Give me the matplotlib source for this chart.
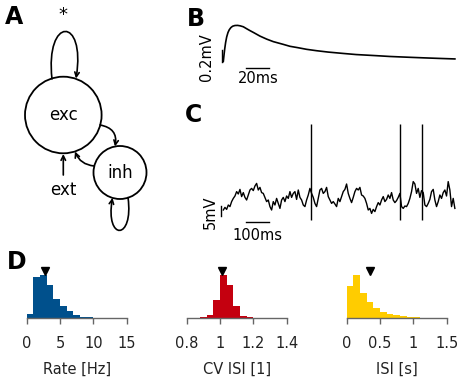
import numpy as np
import matplotlib
matplotlib.use('Agg')
import matplotlib.pyplot as plt
from matplotlib.patches import Circle, FancyArrowPatch
from matplotlib.path import Path

# ---------------- data ----------------
# Panel B: post-synaptic potential (ms, mV)
psp_t = [0, 0.6, 1.2, 2.0, 2.9, 4.0, 5.1, 6.5, 8.0, 10.0, 12.3, 14.5, 17.2, 20.0, 22.9, 26.0,
         31.5, 37.3, 42.9, 51.5, 57.2, 64, 71.5, 80, 90, 103, 114, 131, 143, 160, 172, 185, 199]
psp_v = [0, 0.12, 0.23, 0.35, 0.45, 0.53, 0.58, 0.62, 0.645, 0.658, 0.66, 0.652, 0.635, 0.6,
         0.565, 0.53, 0.465, 0.41, 0.365, 0.315, 0.28, 0.255, 0.225, 0.2, 0.175, 0.15, 0.13,
         0.11, 0.095, 0.08, 0.07, 0.06, 0.05]

# Panel C: membrane potential trace (mV relative), sampled every 7.15 ms
vm_dt = 7.15
vm = [0, 1.3, 0.3, 2.5, 1.7, 4.2, 5.8, 7, 9.2, 8, 10.3, 6.7, 8.7, 6.3, 5, 7.5, 10, 10.8, 9.7, 12,
      13.3, 10, 11.3, 8.7, 8.3, 6.3, 4.2, 5, 1.7, 0, 4.2, 2.5, 5.8, 3.3, 0.8, 5, 6.3, 4.2, 7, 5.8,
      9.2, 6.3, 8.3, 9.2, 5.3, 10, 6.3, 5, 2.5, 1.7, 5, 7.5, 10.8, 8.3, 6.3, 3.3, 1.7, 5.8, 10, 10.8,
      8.3, 9.2, 11.3, 6.7, 5, 3.3, 4.2, 3, 1.7, 5.8, 4.2, 6.7, 9.2, 10.3, 13, 8.3, 5.8, 3.7, 6.3, 9.2,
      10.8, 10, 11.3, 7.5, 7, 5.8, 3.3, 0, 0.8, -1.7, 0.3, -0.8, 1.7, 3.7, 2.5, 5, 6.7, 4.2, 5.3, 7.5,
      5.8, 8.7, 5, 3.7, 4.7, 6.3, 8.3, 1.7, 0.8, 2, 1.7, 3.3, 5.8, 9.2, 14.2, 13, 8.3, 10.8, 6.3, 9.7,
      8.7, 2.5, 1.7, 3.3, 5.3, 9.2, 10.3, 5, 1.7, 4.2, 7.5, 5.8, 8.7, 10, 7, 14.2, 10, 1.7, 5.8, 0.8]
spike_times = [376, 758, 851]
spike_peak = 43
spike_reset = -5

# Panel D: histograms
rate_bins = [0, 1, 2, 3, 4, 5, 6, 7, 8, 9, 10]
rate_counts = [12, 122, 130, 100, 58, 36, 20, 8, 3, 2, 1]
rate_mean = 2.75
cv_bins = [0.88, 0.92, 0.96, 1.00, 1.04, 1.08, 1.12, 1.16]
cv_counts = [2, 8, 54, 130, 100, 36, 6, 2]
cv_mean = 1.01
isi_bins = [0, 0.1, 0.2, 0.3, 0.4, 0.5, 0.6, 0.7, 0.8, 0.9, 1.0, 1.1, 1.2]
isi_counts = [96, 130, 76, 48, 31, 19, 13, 8, 5, 3, 2, 1, 0.5]
isi_mean = 0.35

# ---------------- figure ----------------
W, H = 464, 383
fig = plt.figure(figsize=(W / 100, H / 100), dpi=100)
plt.rcParams['font.family'] = ['DejaVu Sans']


def px_axes(x0, y0, x1, y1):
    return fig.add_axes([x0 / W, 1 - y1 / H, (x1 - x0) / W, (y1 - y0) / H])


# ---- Panel A: network diagram
axA = px_axes(0, 0, 190, 240)
axA.set_xlim(0, 190)
axA.set_ylim(240, 0)
axA.axis('off')
axA.add_patch(Circle((63.3, 115), 38.3, fill=False, lw=1.3, color='k'))
axA.add_patch(Circle((120, 172.5), 26.5, fill=False, lw=1.3, color='k'))
axA.text(63.3, 115, 'exc', ha='center', va='center', fontsize=12)
axA.text(120, 172.5, 'inh', ha='center', va='center', fontsize=12)
axA.text(63.3, 190, 'ext', ha='center', va='center', fontsize=12)
axA.text(63, 15, '*', ha='center', va='center', fontsize=13)

akw = dict(arrowstyle='->', mutation_scale=8, lw=1.2, color='k', shrinkA=0, shrinkB=0)
loop1 = Path([(52, 79), (45, 16), (86, 16), (76, 78.5)],
             [Path.MOVETO, Path.CURVE4, Path.CURVE4, Path.CURVE4])
axA.add_patch(FancyArrowPatch(path=loop1, **akw))
loop2 = Path([(128, 197.5), (134, 241), (105, 241), (112.5, 197.8)],
             [Path.MOVETO, Path.CURVE4, Path.CURVE4, Path.CURVE4])
axA.add_patch(FancyArrowPatch(path=loop2, **akw))
axA.add_patch(FancyArrowPatch((100, 125), (115, 146.5), connectionstyle='arc3,rad=-0.5', **akw))
axA.add_patch(FancyArrowPatch((94, 166), (75, 151.5), connectionstyle='arc3,rad=-0.3', **akw))
axA.add_patch(FancyArrowPatch((63.3, 175), (63.3, 154), **akw))

# ---- Panel B: PSP
axB = px_axes(198, 8, 460, 88)
bx0, bsx = 223.3, 1.165   # px of t=0, px per ms
by0, bsy = 61.7, 55.0     # px of v=0, px per mV
axB.set_xlim((198 - bx0) / bsx, (460 - bx0) / bsx)
axB.set_ylim((by0 - 88) / bsy, (by0 - 8) / bsy)
axB.axis('off')
axB.plot(psp_t, psp_v, color='k', lw=1.2, solid_capstyle='round')
axB.plot([-1.4, -1.4], [0, 0.21], color='k', lw=1.0)
axB.plot([19.5, 39.5], [-0.11, -0.11], color='k', lw=1.0)
axB.text(29.8, -0.3, '20ms', ha='center', va='center', fontsize=10.5)
axB.text(-14, 0.085, '0.2mV', ha='center', va='center', rotation=90, fontsize=10.5)

# ---- Panel C: membrane potential
axC = px_axes(198, 110, 460, 245)
cx0, csx = 223.3, 0.233   # px of t=0, px per ms
cy0, csy = 210.0, 2.0     # px of v=0, px per mV
axC.set_xlim((198 - cx0) / csx, (460 - cx0) / csx)
axC.set_ylim((cy0 - 245) / csy, (cy0 - 110) / csy)
axC.axis('off')
t_vm = np.arange(len(vm)) * vm_dt
axC.plot(t_vm, vm, color='k', lw=1.0)
axC.vlines(spike_times, spike_reset, spike_peak, color='k', lw=1.0)
axC.plot([-10, -10], [-3, 2], color='k', lw=1.0)
axC.plot([97, 197], [-5.8, -5.8], color='k', lw=1.0)
axC.text(147, -12.5, '100ms', ha='center', va='center', fontsize=10.5)
axC.text(-57, -1, '5mV', ha='center', va='center', rotation=90, fontsize=10.5)

# ---- Panel D: histograms
hist_specs = [
    (26.7, 126.7, rate_bins, rate_counts, 1.0, rate_mean, '#00508C', (0, 15),
     [0, 5, 10, 15], ['0', '5', '10', '15'], 'Rate [Hz]'),
    (186.7, 286.7, cv_bins, cv_counts, 0.04, cv_mean, '#C4000F', (0.8, 1.4),
     [0.8, 1.0, 1.2, 1.4], ['0.8', '1', '1.2', '1.4'], 'CV ISI [1]'),
    (346.7, 446.7, isi_bins, isi_counts, 0.1, isi_mean, '#FFCC00', (0, 1.5),
     [0, 0.5, 1.0, 1.5], ['0', '0.5', '1', '1.5'], 'ISI [s]'),
]
for x0, x1, bins, counts, bw, mean, col, xl, ticks, tlabels, lab in hist_specs:
    ax = px_axes(x0, 262, x1, 318)
    ax.bar(bins, counts, width=bw, align='edge', color=col, edgecolor='none')
    ax.plot([mean], [142.5], marker='v', color='k', markersize=6, clip_on=False)
    ax.set_xlim(*xl)
    ax.set_ylim(0, 168)
    for s in ['top', 'right', 'left']:
        ax.spines[s].set_visible(False)
    ax.spines['bottom'].set_color('#666666')
    ax.spines['bottom'].set_linewidth(1.0)
    ax.set_yticks([])
    ax.set_xticks(ticks)
    ax.set_xticklabels(tlabels)
    ax.tick_params(axis='x', colors='#666666', labelcolor='#222222', labelsize=10.5,
                   length=4, width=1.0, direction='out', pad=9)
    ax.set_xlabel(lab, fontsize=10.5, color='#222222', labelpad=8)
    ax.patch.set_visible(False)

# ---- Panel letters
for letter, (x, y) in {'A': (14.5, 17), 'B': (195.5, 18.5), 'C': (193.5, 115), 'D': (16.5, 262)}.items():
    fig.text(x / W, 1 - y / H, letter, ha='center', va='center', fontsize=17, fontweight='bold')

fig.savefig('out.png', dpi=100)
